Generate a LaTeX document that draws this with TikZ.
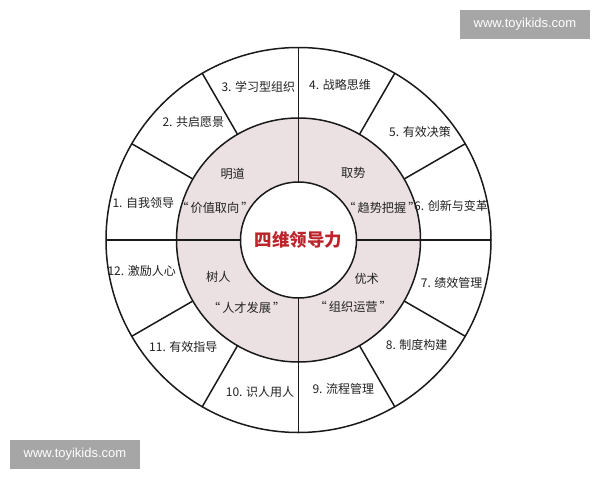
\documentclass[tikz,border=0pt]{standalone}
\usepackage{fontspec}
\usetikzlibrary{calc}
\setmainfont{Noto Sans CJK SC}
\newfontfamily\cjk{Noto Sans CJK SC}
\newfontfamily\wmfont{Liberation Sans}
\definecolor{ringpink}{HTML}{ECE1E2}
\definecolor{txtgray}{HTML}{222222}
\definecolor{titlered}{HTML}{BC232B}
\definecolor{wmgray}{HTML}{A6A6A6}
\definecolor{linecol}{HTML}{1A1A1A}
\newcommand{\qq}[1]{“\kern2pt#1\kern2pt”}
\tikzset{
  ringline/.style={draw=linecol, line width=1.5pt},
  lbl/.style={text=txtgray, font=\cjk\fontsize{12}{14}\selectfont, inner sep=0pt},
  inlbl/.style={text=txtgray, font=\cjk\fontsize{12.2}{14}\selectfont, inner sep=0pt},
  titlelbl/.style={text=titlered, font=\cjk\bfseries\fontsize{17.5}{20}\selectfont, inner sep=0pt},
  wmbox/.style={fill=wmgray, draw=none, minimum width=130pt, minimum height=29pt, inner sep=0pt, text=white, font=\wmfont\fontsize{13}{15}\selectfont}
}
\begin{document}
\begin{tikzpicture}[x=1pt,y=-1pt]
\useasboundingbox[fill=white] (0,0) rectangle (600,480);
\coordinate (C) at (298.5,240);
% outer circle
\draw[ringline, fill=white] (C) circle[radius=192.5];
% inner ring
\draw[ringline, fill=ringpink] (C) circle[radius=122];
% spokes in outer ring
\foreach \a in {30,60,120,150,210,240,300,330}{
  \draw[ringline] ($(C)+(\a:122)$) -- ($(C)+(\a:192.5)$);
}
% full cross lines
\coordinate (L) at ($(C)+(-192.5,0)$);
\coordinate (R) at ($(C)+(192.5,0)$);
\coordinate (T) at ($(C)+(0,-192.5)$);
\coordinate (B) at ($(C)+(0,192.5)$);
\draw[ringline] (L) -- (R);
\draw[ringline] (T) -- (B);
% centre circle
\draw[ringline, fill=white] (C) circle[radius=58];
\node[titlelbl] (title) at (298.5,239.5) {四维领导力};
% inner labels
\node[inlbl] (i1a) at (232.7,174) {明道};
\node[inlbl] (i1b) at (215,208.3) {\qq{价值取向}};
\node[inlbl] (i2a) at (353.3,173.3) {取势};
\node[inlbl] (i2b) at (382,208.3) {\qq{趋势把握}};
\node[inlbl] (i3a) at (218.3,277.3) {树人};
\node[inlbl] (i3b) at (246.7,308.3) {\qq{人才发展}};
\node[inlbl] (i4a) at (366.7,279.3) {优术};
\node[inlbl] (i4b) at (353.3,307.3) {\qq{组织运营}};
% outer labels
\node[lbl] (o1) at (143.3,203.3) {1. 自我领导};
\node[lbl] (o2) at (193.3,121.7) {2. 共启愿景};
\node[lbl] (o3) at (258.3,86.7) {3. 学习型组织};
\node[lbl] (o4) at (340,85) {4. 战略思维};
\node[lbl] (o5) at (420,131.7) {5. 有效决策};
\node[lbl] (o6) at (451,206) {6. 创新与变革};
\node[lbl] (o7) at (451.7,283.3) {7. 绩效管理};
\node[lbl] (o8) at (416.7,345) {8. 制度构建};
\node[lbl] (o9) at (343.3,389.3) {9. 流程管理};
\node[lbl] (o10) at (260,391.7) {10. 识人用人};
\node[lbl] (o11) at (183.3,346.7) {11. 有效指导};
\node[lbl] (o12) at (141.7,270.7) {12. 激励人心};
% watermarks
\node[wmbox] (wm1) at (525,24.5) {www.toyikids.com};
\node[wmbox] (wm2) at (75,454.5) {www.toyikids.com};
\end{tikzpicture}
\end{document}
